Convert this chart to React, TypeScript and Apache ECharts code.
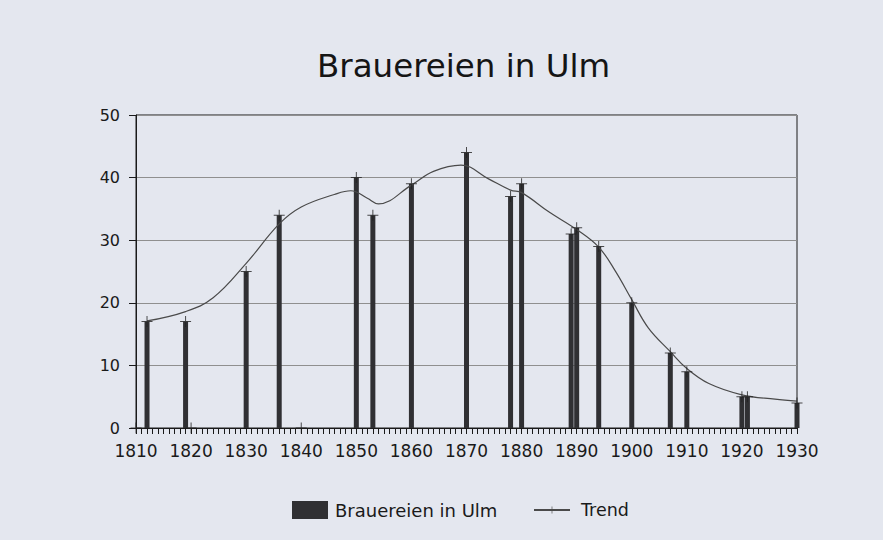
import React, { useEffect, useRef } from "react";
import * as echarts from "echarts";

const title = "Brauereien in Ulm";
const barName = "Brauereien in Ulm";
const trendName = "Trend";

const barYears = [1812, 1819, 1830, 1836, 1850, 1853, 1860, 1870, 1878, 1880, 1889, 1890, 1894, 1900, 1907, 1910, 1920, 1921, 1930];
const barValues = [17, 17, 25, 34, 40, 34, 39, 44, 37, 39, 31, 32, 29, 20, 12, 9, 5, 5, 4];

const zeroMarkerYears = [1810, 1820, 1840];

const trendYears = [1812, 1819, 1824, 1830, 1836, 1840, 1846, 1849, 1852, 1854, 1860, 1864, 1869, 1874, 1878, 1880, 1885, 1890, 1894, 1897, 1900, 1903, 1907, 1910, 1914, 1920, 1926, 1930];
const trendValues = [17.1, 18.6, 20.8, 26.3, 32.6, 35.3, 37.3, 37.9, 36.7, 35.8, 38.8, 41.0, 42.0, 39.8, 38.0, 37.6, 34.5, 31.7, 28.9, 25.1, 20.5, 16.0, 12.2, 9.5, 7.1, 5.3, 4.6, 4.3];

const xMin = 1810;
const xMax = 1930;
const yMin = 0;
const yMax = 50;

const FONT = "DejaVu Sans";
const PLUS = "path://M0,5H11V6H0Z M5,0H6V11H5Z";

export default function App() {
  const ref = useRef<HTMLDivElement>(null);

  useEffect(() => {
    if (!ref.current) return;
    const chart = echarts.init(ref.current, null, { renderer: "svg" });

    const barData = barYears.map((y, i) => [y, barValues[i]]);
    const markerData = barYears
      .map((y, i) => [y, barValues[i]])
      .concat(zeroMarkerYears.map((y) => [y, 0]));
    const trendData = trendYears.map((y, i) => [y, trendValues[i]]);

    chart.setOption({
      animation: false,
      backgroundColor: "#e4e7ef",
      title: {
        text: title,
        left: 312,
        top: 44,
        textStyle: { fontFamily: FONT, fontSize: 32.5, fontWeight: "normal", color: "#151515" },
      },
      legend: [
        {
          data: [{ name: barName, icon: "rect" }],
          left: 287,
          top: 496,
          itemWidth: 36,
          itemHeight: 18,
          textStyle: { fontFamily: FONT, fontSize: 18, color: "#1a1a1a", padding: [0, 0, 0, 2] },
        },
        {
          data: [trendName],
          left: 528,
          top: 496,
          itemWidth: 36,
          itemHeight: 9,
          textStyle: { fontFamily: FONT, fontSize: 17.5, color: "#1a1a1a", padding: [0, 0, 0, 6] },
        },
      ],
      grid: {
        left: 136,
        right: 86,
        top: 115,
        bottom: 112,
        show: true,
        borderColor: "#1a1a1a",
        borderWidth: 1,
        backgroundColor: "transparent",
      },
      xAxis: {
        type: "value",
        min: xMin,
        max: xMax,
        interval: 10,
        axisLine: { show: true, lineStyle: { color: "#1a1a1a", width: 1 } },
        axisTick: { show: true, length: 6, inside: false, lineStyle: { color: "#1a1a1a" } },
        minorTick: { show: true, splitNumber: 10, length: 6, lineStyle: { color: "#1a1a1a" } },
        splitLine: { show: false },
        axisLabel: {
          margin: 14,
          fontFamily: FONT,
          fontSize: 17,
          color: "#1a1a1a",
          formatter: (v: number) => String(v),
        },
      },
      yAxis: {
        type: "value",
        min: yMin,
        max: yMax,
        interval: 10,
        axisLine: { show: true, lineStyle: { color: "#1a1a1a", width: 1 } },
        axisTick: { show: true, length: 7, lineStyle: { color: "#1a1a1a" } },
        splitLine: { show: true, lineStyle: { color: "#8f8f8f", width: 1 } },
        axisLabel: { margin: 16, fontFamily: FONT, fontSize: 16, color: "#1a1a1a" },
      },
      series: [
        {
          name: barName,
          type: "bar",
          data: barData,
          barWidth: 5,
          itemStyle: { color: "#303033" },
          z: 2,
        },
        {
          name: "Marken",
          type: "scatter",
          data: markerData,
          symbol: PLUS,
          symbolSize: 11,
          itemStyle: { color: "#222222" },
          clip: false,
          z: 4,
        },
        {
          name: trendName,
          type: "line",
          data: trendData,
          smooth: 0.4,
          showSymbol: false,
          symbol: PLUS,
          color: "#4a4a4a",
          lineStyle: { color: "#4a4a4a", width: 1.2 },
          itemStyle: { color: "#4a4a4a" },
          z: 3,
        },
      ],
    });

    return () => chart.dispose();
  }, []);

  return (
    <div
      ref={ref}
      style={{ position: "fixed", left: 0, top: 0, width: 883, height: 540 }}
    />
  );
}
